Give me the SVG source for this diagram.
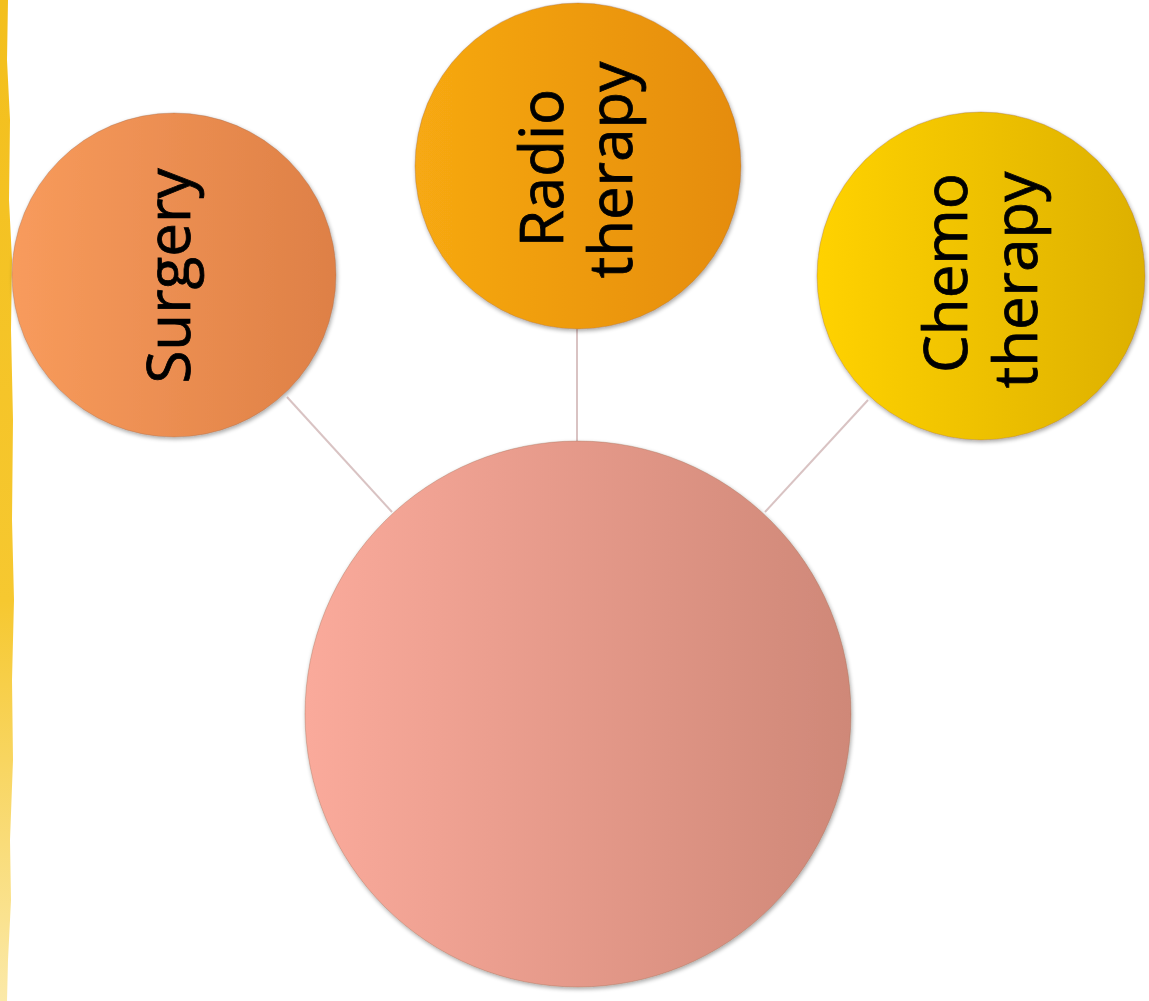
<svg xmlns="http://www.w3.org/2000/svg" width="1149" height="1001" viewBox="0 0 1149 1001">
<defs>
<linearGradient id="gSurg" x1="0" y1="0" x2="1" y2="0"><stop offset="0" stop-color="#F89B5C"/><stop offset="1" stop-color="#DE8046"/></linearGradient>
<linearGradient id="gRad" x1="0" y1="0" x2="1" y2="0"><stop offset="0" stop-color="#F7A912"/><stop offset="1" stop-color="#E58C0A"/></linearGradient>
<linearGradient id="gChem" x1="0" y1="0" x2="1" y2="0"><stop offset="0" stop-color="#FFD200"/><stop offset="1" stop-color="#DDB000"/></linearGradient>
<linearGradient id="gMain" x1="0" y1="0" x2="1" y2="0"><stop offset="0" stop-color="#FAAA9B"/><stop offset="1" stop-color="#CF8878"/></linearGradient>
<linearGradient id="gStrip" x1="0" y1="0" x2="0" y2="1"><stop offset="0" stop-color="#F3BF1C"/><stop offset="0.6" stop-color="#F6C830"/><stop offset="1" stop-color="#FBE9A8"/></linearGradient>
<filter id="sh" x="-10%" y="-10%" width="120%" height="120%"><feGaussianBlur in="SourceAlpha" stdDeviation="2"/><feOffset dx="1" dy="2"/><feComponentTransfer><feFuncA type="linear" slope="0.35"/></feComponentTransfer><feMerge><feMergeNode/><feMergeNode in="SourceGraphic"/></feMerge></filter>
</defs>
<style>
.node{filter:url(#sh);stroke:#9a6a50;stroke-opacity:0.35;stroke-width:1}
.lbl{font-family:"Open Sans","Noto Sans","DejaVu Sans",sans-serif;font-size:60px;fill:#000;stroke:#000;stroke-width:0.8;text-anchor:middle}
.conn{stroke:#D9C3C3;stroke-width:2;fill:none}
</style>
<rect width="1149" height="1001" fill="#FFFFFF"/>
<path d="M0 0 L8 0 L7 60 L10 120 L9 200 L12 260 L11 330 L13 420 L12 520 L14 600 L12 680 L13 760 L10 840 L11 900 L8 960 L7 1001 L0 1001 Z" fill="url(#gStrip)"/>
<g id="connectors">
<line class="conn" x1="287" y1="397" x2="392" y2="512"/>
<line class="conn" x1="577" y1="328" x2="577" y2="442"/>
<line class="conn" x1="868" y1="400" x2="765" y2="512"/>
</g>
<g id="node-surgery">
<circle class="node" cx="174" cy="275" r="162" fill="url(#gSurg)"/>
<text class="lbl" transform="translate(190,276) rotate(-90)">Surgery</text>
</g>
<g id="node-radio">
<circle class="node" cx="578" cy="166" r="163" fill="url(#gRad)"/>
<text class="lbl" transform="translate(563,168) rotate(-90)">Radio</text>
<text class="lbl" transform="translate(632,170) rotate(-90)">therapy</text>
</g>
<g id="node-chemo">
<circle class="node" cx="981" cy="276" r="164" fill="url(#gChem)"/>
<text class="lbl" transform="translate(967,273) rotate(-90)">Chemo</text>
<text class="lbl" transform="translate(1037,280) rotate(-90)">therapy</text>
</g>
<g id="node-main">
<circle class="node" cx="578" cy="714" r="273" fill="url(#gMain)"/>
</g>
</svg>
